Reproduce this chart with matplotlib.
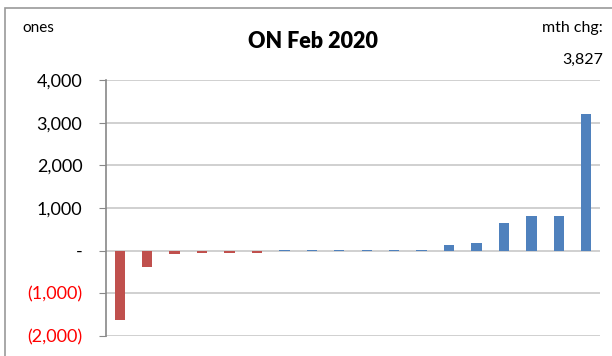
import matplotlib
matplotlib.use("Agg")
import matplotlib.pyplot as plt
from matplotlib.patches import Rectangle
from matplotlib.ticker import FuncFormatter

plt.rcParams['font.family'] = ['Lato', 'DejaVu Sans']

categories = [f"c{i}" for i in range(1, 19)]
values = [-1620, -375, -80, -45, -45, -45, 25, 25, 25, 25, 25, 25,
          140, 180, 660, 810, 810, 3210]
yticks = [-2000, -1000, 0, 1000, 2000, 3000, 4000]
title = "ON Feb 2020"
unit_label = "ones"
chg_label = "mth chg:"
chg_value = "3,827"

RED = "#C0504D"
BLUE = "#4F81BD"

fig = plt.figure(figsize=(6.12, 3.56), dpi=100)
ax = fig.add_axes([106/612, 1 - 336/356, (600-106)/612, (336-80)/356])

x = list(range(len(categories)))
colors = [RED if v < 0 else BLUE for v in values]
ax.bar(x, values, width=0.38, color=colors, zorder=3)

ax.set_xlim(-0.5, len(categories) - 0.5)
ax.set_ylim(-2000, 4000)
ax.set_yticks(yticks)

def fmt(v, pos):
    if v == 0:
        return "-"
    if v < 0:
        return f"({abs(int(v)):,})"
    return f"{int(v):,}"

ax.yaxis.set_major_formatter(FuncFormatter(fmt))
ax.tick_params(axis='y', labelsize=13, length=5, color="#888888", pad=12)
for lbl, v in zip(ax.get_yticklabels(), yticks):
    if v < 0:
        lbl.set_color("red")
ax.set_xticks([])
ax.grid(axis='y', color="#C8C8C8", linewidth=1.2, zorder=0)
for s in ['top', 'right', 'bottom']:
    ax.spines[s].set_visible(False)
ax.spines['left'].set_color("#888888")
ax.spines['left'].set_linewidth(1.2)

fig.text(313/612, 1 - 42/356, title, ha='center', va='center',
         fontsize=15.5, fontweight='heavy')
fig.text(22/612, 1 - 28/356, unit_label, ha='left', va='center', fontsize=11)
fig.text(603/612, 1 - 28/356, chg_label, ha='right', va='center', fontsize=11.5)
fig.text(603/612, 1 - 60/356, chg_value, ha='right', va='center', fontsize=11.5)

fig.patches.append(Rectangle((5/612, -0.05), 1.0, 1 - 8/356 + 0.05,
                             transform=fig.transFigure, fill=False,
                             edgecolor="#999999", linewidth=1.2))

fig.savefig("out.png", dpi=100)
